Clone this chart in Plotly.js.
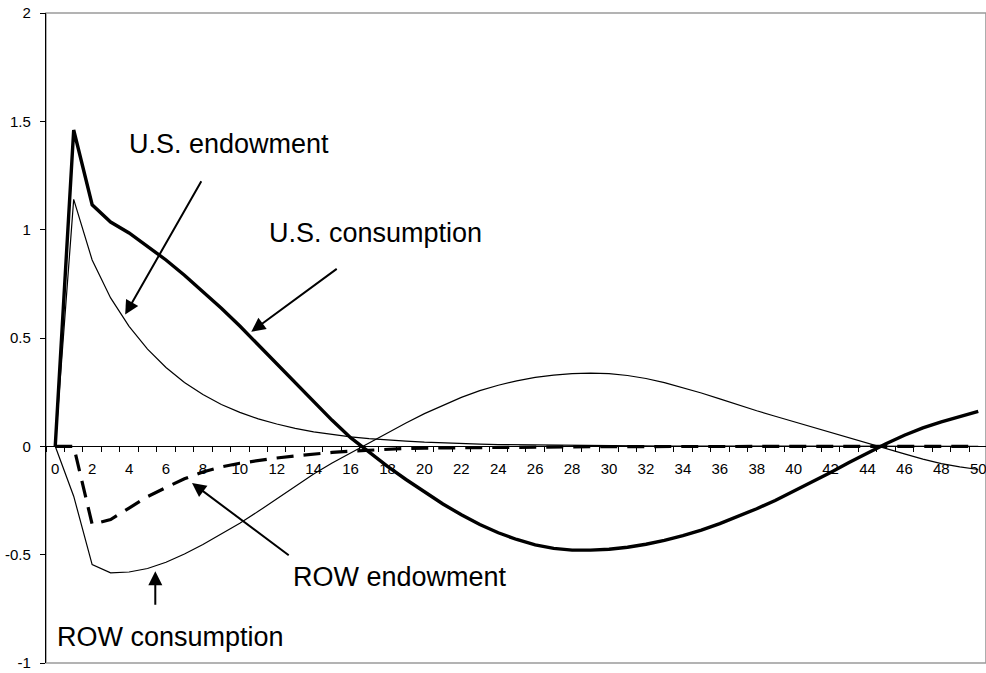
<!DOCTYPE html>
<html>
<head>
<meta charset="utf-8">
<script src="https://cdn.plot.ly/plotly-3.0.1.min.js"></script>
<style>html,body{margin:0;padding:0;background:#fff;}#chart{width:986px;height:673px;}</style>
</head>
<body>
<div id="chart"></div>
<script>
const periods = [0,1,2,3,4,5,6,7,8,9,10,11,12,13,14,15,16,17,18,19,20,21,22,23,24,25,26,27,28,29,30,31,32,33,34,35,36,37,38,39,40,41,42,43,44,45,46,47,48,49,50];

const usConsumption = [0,1.46,1.115,1.035,0.985,0.923,0.86,0.79,0.715,0.637,
  0.555,0.468,0.38,0.292,0.205,0.12,0.04,-0.028,-0.092,-0.153,
  -0.211,-0.266,-0.316,-0.361,-0.399,-0.43,-0.455,-0.471,-0.479,-0.479,
  -0.475,-0.466,-0.452,-0.434,-0.412,-0.387,-0.357,-0.324,-0.288,-0.25,
  -0.208,-0.165,-0.121,-0.075,-0.03,0.012,0.051,0.085,0.113,0.139,0.161];

const usEndowment = [0,1.14,0.86,0.685,0.554,0.449,0.364,0.295,0.239,0.193,
  0.157,0.127,0.103,0.083,0.067,0.055,0.044,0.036,0.029,0.024,
  0.019,0.015,0.012,0.01,0.008,0.007,0.005,0.004,0.004,0.003,
  0.002,0.002,0.002,0.001,0.001,0.001,0.001,0.001,0.001,0,
  0,0,0,0,0,0,0,0,0,0,0];

const rowConsumption = [0,-0.23,-0.546,-0.584,-0.58,-0.564,-0.535,-0.497,-0.453,-0.405,
  -0.355,-0.3,-0.242,-0.184,-0.128,-0.077,-0.03,0.014,0.062,0.108,
  0.151,0.19,0.226,0.257,0.282,0.302,0.318,0.329,0.336,0.338,
  0.336,0.327,0.313,0.294,0.271,0.246,0.219,0.191,0.164,0.139,
  0.114,0.088,0.062,0.038,0.014,-0.01,-0.035,-0.059,-0.08,-0.095,-0.107];

const rowEndowment = [0,0,-0.36,-0.338,-0.285,-0.232,-0.19,-0.15,-0.118,-0.095,
  -0.078,-0.065,-0.054,-0.044,-0.035,-0.028,-0.022,-0.017,-0.013,-0.01,
  -0.008,-0.007,-0.006,-0.005,-0.004,-0.003,-0.003,-0.002,-0.002,-0.002,
  -0.001,-0.001,-0.001,-0.001,-0.001,-0.001,-0.001,-0.001,-0.001,-0.001,
  -0.001,0,0,0,0,0,0,0,0,0,0];

const yTickVals = [-1,-0.5,0,0.5,1,1.5,2];
const yTickText = ['-1','-0.5','0','0.5','1','1.5','2'];
const xTickVals = [0,2,4,6,8,10,12,14,16,18,20,22,24,26,28,30,32,34,36,38,40,42,44,46,48,50];

const labels = {
  usEndowment: 'U.S. endowment',
  usConsumption: 'U.S. consumption',
  rowEndowment: 'ROW endowment',
  rowConsumption: 'ROW consumption'
};

const FONT = 'Arial, "Liberation Sans", sans-serif';

const traces = [
  {x: periods, y: usEndowment, type: 'scatter', mode: 'lines', name: labels.usEndowment,
   line: {color: '#000', width: 1.2}},
  {x: periods, y: rowConsumption, type: 'scatter', mode: 'lines', name: labels.rowConsumption,
   line: {color: '#000', width: 1.2}},
  {x: periods, y: rowEndowment, type: 'scatter', mode: 'lines', name: labels.rowEndowment,
   line: {color: '#000', width: 3.2, dash: '17px,10px'}},
  {x: periods, y: usConsumption, type: 'scatter', mode: 'lines', name: labels.usConsumption,
   line: {color: '#000', width: 3.4}}
];

function textAnn(text, x, y) {
  return {text: text, x: x, y: y, xref: 'x', yref: 'y', showarrow: false,
    xanchor: 'center', yanchor: 'middle', font: {family: FONT, size: 27, color: '#000'}};
}
function arrowAnn(x, y, ax, ay) {
  return {text: '', x: x, y: y, ax: ax, ay: ay, xref: 'x', yref: 'y', axref: 'x', ayref: 'y',
    showarrow: true, arrowhead: 2, arrowsize: 1.4, arrowwidth: 2, arrowcolor: '#000', standoff: 0};
}

const layout = {
  width: 986, height: 673,
  margin: {l: 46, r: 0, t: 13, b: 10},
  paper_bgcolor: '#fff', plot_bgcolor: '#fff',
  showlegend: false,
  font: {family: FONT, size: 15, color: '#000'},
  xaxis: {
    range: [-0.5, 50.42], anchor: 'free', position: 1/3,
    showline: true, linecolor: '#000', linewidth: 1,
    showgrid: false, zeroline: false,
    tickvals: xTickVals, ticks: '', ticklabelstandoff: 9, ticklabeloverflow: 'allow',
    tickfont: {family: FONT, size: 15, color: '#000'},
    minor: {tick0: 0.5, dtick: 1, ticks: 'outside', ticklen: 5, tickwidth: 1, tickcolor: '#000', showgrid: false}
  },
  yaxis: {
    range: [-1, 2], showline: true, linecolor: '#000', linewidth: 1.2,
    showgrid: false, zeroline: false,
    tickvals: yTickVals, ticktext: yTickText,
    ticks: 'outside', ticklen: 5, tickcolor: '#000', ticklabelstandoff: 6,
    tickfont: {family: FONT, size: 15, color: '#000'}
  },
  shapes: [
    {type: 'rect', xref: 'paper', yref: 'paper', x0: 0, x1: 1, y0: 0, y1: 1,
     line: {color: '#9a9a9a', width: 1.6}, layer: 'below'}
  ],
  annotations: [
    textAnn(labels.usEndowment, 9.40, 1.395),
    textAnn(labels.usConsumption, 17.36, 0.984),
    textAnn(labels.rowEndowment, 18.69, -0.604),
    textAnn(labels.rowConsumption, 6.26, -0.880),
    arrowAnn(3.79, 0.608, 7.96, 1.230),
    arrowAnn(10.62, 0.529, 15.33, 0.824),
    arrowAnn(7.41, -0.169, 12.73, -0.508),
    arrowAnn(5.42, -0.577, 5.42, -0.738)
  ]
};

Plotly.newPlot('chart', traces, layout, {staticPlot: true, displayModeBar: false});
</script>
</body>
</html>
